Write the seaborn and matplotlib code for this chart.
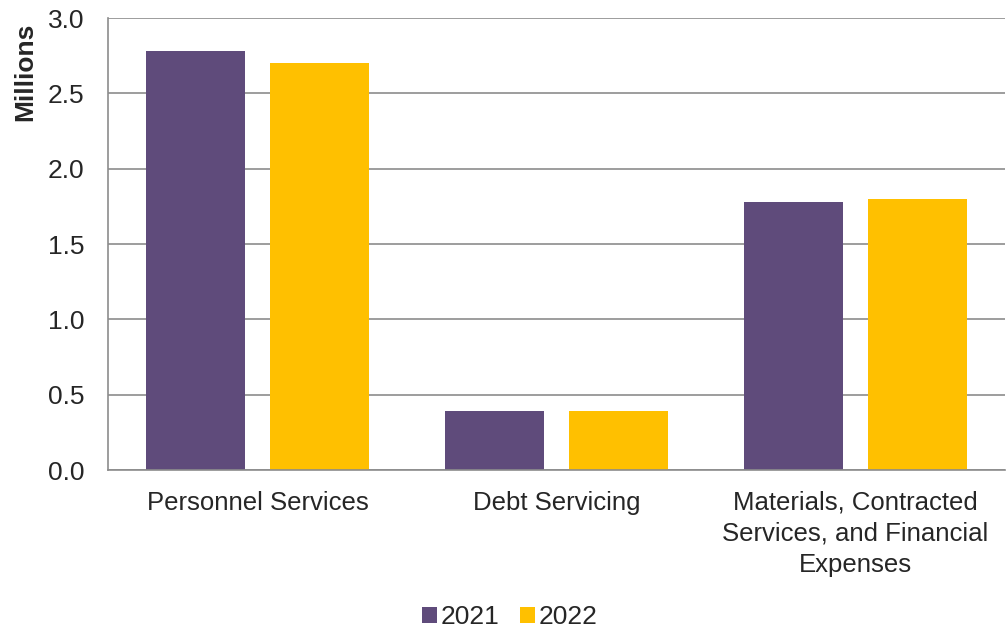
import matplotlib
matplotlib.use("Agg")
import matplotlib.pyplot as plt
import seaborn as sns
import pandas as pd

categories = ["Personnel Services", "Debt Servicing",
              "Materials, Contracted\nServices, and Financial\nExpenses"]
values_2021 = [2.78, 0.39, 1.78]
values_2022 = [2.70, 0.39, 1.80]
years = ["2021", "2022"]
yticks = [0.0, 0.5, 1.0, 1.5, 2.0, 2.5, 3.0]

df = pd.DataFrame({
    "category": categories * 2,
    "year": [years[0]] * 3 + [years[1]] * 3,
    "value": values_2021 + values_2022,
})

sns.set_style("white")
plt.rcParams['font.family'] = ['Liberation Sans', 'DejaVu Sans']

FS = 19
fig = plt.figure(figsize=(10.06, 6.31), dpi=100)
ax = fig.add_axes([108/1006, 1 - 470/631, (1005 - 108)/1006, (470 - 18)/631])

palette = {"2021": "#5F4B7B", "2022": "#FFC000"}
sns.barplot(data=df, x="category", y="value", hue="year", palette=palette,
            width=0.83, gap=0.2, ax=ax, saturation=1, legend=True, linewidth=0)

ax.set_ylim(0, 3.0)
ax.set_yticks(yticks)
ax.set_yticklabels([f"{t:.1f}" for t in yticks], fontsize=FS)
ax.yaxis.grid(True, color="#8c8c8c", linewidth=1.2)
ax.set_axisbelow(True)
ax.tick_params(axis="x", labelsize=18.5, length=0, pad=15)
ax.tick_params(axis="y", length=0, pad=17)
for lbl in ax.get_xticklabels():
    lbl.set_linespacing(1.36)
for s in ["top", "right"]:
    ax.spines[s].set_visible(False)
for s in ["left", "bottom"]:
    ax.spines[s].set_color("#8c8c8c")
    ax.spines[s].set_linewidth(1.2)
ax.set_xlabel("")
ax.set_ylabel("")
fig.text(25/1006, 1 - 72/631, "Millions", rotation=90, fontsize=FS,
         fontweight="bold", ha="center", va="center")

handles, labels = ax.get_legend_handles_labels()
ax.get_legend().remove()
fig.legend(handles, labels, loc="center", bbox_to_anchor=(510/1006, 1 - 617/631),
           ncol=2, frameon=False, fontsize=FS, handlelength=0.55, handleheight=0.55,
           handletextpad=0.15, columnspacing=0.8)

fig.savefig("out.png", dpi=100)
